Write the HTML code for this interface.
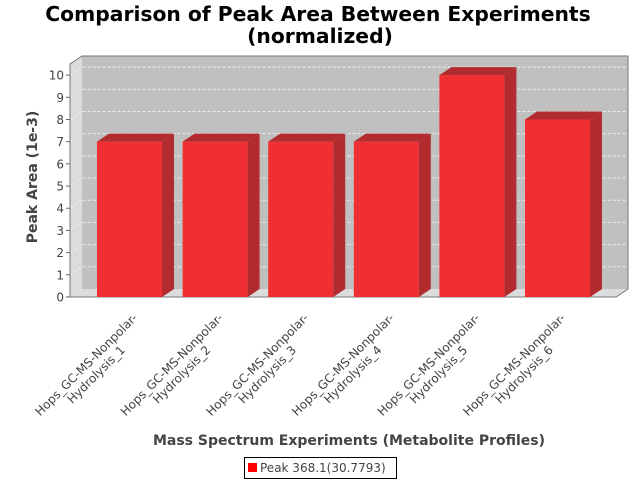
<!DOCTYPE html>
<html><head><meta charset="utf-8"><style>
html,body{margin:0;padding:0;background:#fff}
svg{display:block;font-family:"DejaVu Sans","Liberation Sans",sans-serif}
</style></head><body>
<svg id="chart" width="640" height="480" viewBox="0 0 640 480">
<rect width="640" height="480" fill="#fff"/>
<text x="318" y="21" text-anchor="middle" font-weight="bold" font-size="20.3" fill="#000">Comparison of Peak Area Between Experiments</text>
<text x="320" y="43" text-anchor="middle" font-weight="bold" font-size="20.3" fill="#000">(normalized)</text>
<g id="plot"></g>
<text transform="translate(37,177) rotate(-90)" text-anchor="middle" font-weight="bold" font-size="14" fill="#444">Peak Area (1e-3)</text>
<text x="349" y="445" text-anchor="middle" font-weight="bold" font-size="14" fill="#444">Mass Spectrum Experiments (Metabolite Profiles)</text>
<g>
<rect x="244.5" y="457.5" width="152" height="21" fill="#fff" stroke="#000"/>
<rect x="248" y="463" width="9" height="9" fill="#ff0000"/>
<text x="260" y="472" font-size="12" fill="#444">Peak 368.1(30.7793)</text>
</g>
</svg>
<script>
const categories = ["Hydrolysis_1","Hydrolysis_2","Hydrolysis_3","Hydrolysis_4","Hydrolysis_5","Hydrolysis_6"];
const labelPrefix = "Hops_GC-MS-Nonpolar-";
const values = [7, 7, 7, 7, 10, 8];
const yTicks = [0,1,2,3,4,5,6,7,8,9,10];

const NS = "http://www.w3.org/2000/svg";
const plot = document.getElementById('plot');
const X0 = 70, X1 = 616, Y0 = 297, DX = 12, DY = 8;
const yMax = 10.5;
const y = v => Y0 - v / yMax * (Y0 - 64);
const barW = 65;
const barX = i => 97 + i * 85.6;
function el(tag, attrs, parent) {
  const e = document.createElementNS(NS, tag);
  for (const k in attrs) e.setAttribute(k, attrs[k]);
  (parent || plot).appendChild(e);
  return e;
}
let w = el('polygon', {points: `${X0},${Y0} ${X0},64 ${X0+DX},56 ${X0+DX},${Y0-DY}`, fill: '#dcdcdc', stroke: 'none'});


w = el('polygon', {points: `${X0},${Y0} ${X0+DX},${Y0-DY} ${X1+DX},${Y0-DY} ${X1},${Y0}`, fill: '#dcdcdc'});


w = el('rect', {x: X0+DX, y: 56, width: X1 - X0, height: Y0 - DY - 56, fill: '#c0c0c0'});


yTicks.forEach(t => {
  const yy = y(t);
  if (t > 0) {
    const g = el('polyline', {points: `${X0},${yy} ${X0+DX},${yy-DY} ${X1+DX},${yy-DY}`, fill: 'none', stroke: '#eeeeee', 'stroke-width': 1, 'stroke-dasharray': '3,2'});
    
    
  }
  const tk = el('line', {x1: X0 - 4, y1: yy, x2: X0, y2: yy, stroke: '#666'});
  
  
  const tl = el('text', {x: X0 - 6, y: yy + 4.5, 'text-anchor': 'end', 'font-size': 12, fill: '#444'});
  tl.textContent = t;
  
  
});
w = el('polyline', {points: `${X0},${Y0} ${X0},64 ${X0+DX},56 ${X1+DX},56 ${X1+DX},${Y0-DY} ${X1},${Y0} ${X0},${Y0}`, fill: 'none', stroke: '#777', 'stroke-width': 1});


values.forEach((v, i) => {
  const x = barX(i), yt = y(v);
  const g = el('g', {});
  
  
  el('rect', {x: x, y: yt, width: barW, height: Y0 - yt, fill: '#ef2f32'}, g);
  el('polygon', {points: `${x+barW},${yt} ${x+barW+DX},${yt-DY} ${x+barW+DX},${Y0-DY} ${x+barW},${Y0}`, fill: '#b22c2f'}, g);
  el('polygon', {points: `${x},${yt} ${x+DX},${yt-DY} ${x+barW+DX},${yt-DY} ${x+barW},${yt}`, fill: '#b22c2f'}, g);
  const cx = x + barW / 2 + 2;
  const t = el('text', {transform: `translate(${cx},311) rotate(-45)`, 'font-size': 12, fill: '#444', 'text-anchor': 'middle'});
  
  
  const s1 = el('tspan', {x: -70, y: 10, 'text-anchor': 'middle'}, t);
  s1.textContent = labelPrefix;
  const s2 = el('tspan', {x: -70, y: 24, 'text-anchor': 'middle'}, t);
  s2.textContent = categories[i];
});
</script>
</body></html>
